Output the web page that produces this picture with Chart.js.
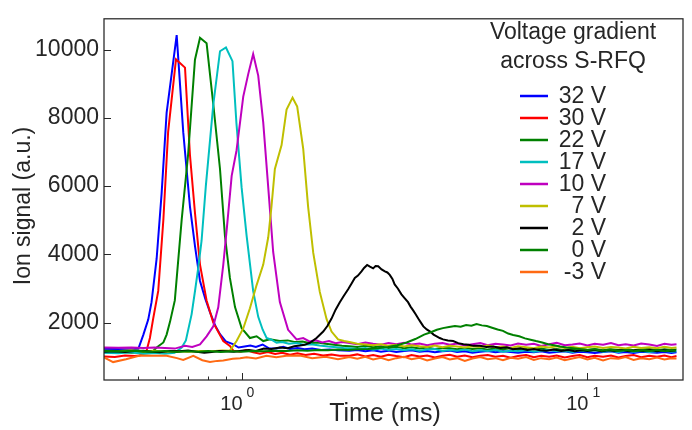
<!DOCTYPE html>
<html>
<head>
<meta charset="utf-8">
<script src="https://cdn.jsdelivr.net/npm/chart.js@4.4.0/dist/chart.umd.min.js"></script>
<style>
  html, body { margin: 0; padding: 0; background: #fff; }
  #wrap { width: 692px; height: 430px; }
</style>
</head>
<body>
<div id="wrap"><canvas id="chart"></canvas></div>
<script>
// legend labels and colours, in plotting order
const labels = ["32 V", "30 V", "22 V", "17 V", "10 V", " 7 V", " 2 V", " 0 V", "-3 V"];
const colors = ["#0000ff", "#ff0000", "#008000", "#00bfbf", "#bf00bf", "#bfbf00", "#000000", "#008000", "#ff6a13"];

// shared time grid (ms) for the flat tails
const tailT = [2.05, 2.16, 2.28, 2.4, 2.53, 2.66, 2.8, 2.95, 3.1, 3.27, 3.44, 3.62, 3.81, 4.0, 4.2, 4.42, 4.65, 4.9, 5.15, 5.42, 5.7, 6.0, 6.3, 6.65, 7.0, 7.35, 7.75, 8.15, 8.6, 9.05, 9.5, 10.0, 10.5, 11.1, 11.7, 12.3, 12.9, 13.6, 14.3, 15.1, 15.9, 16.7, 17.5, 18.1];

// 32 V
const t32 = [0.40, 0.43, 0.46, 0.49, 0.503, 0.52, 0.537, 0.549, 0.568, 0.587, 0.607, 0.628, 0.649, 0.678, 0.709, 0.733, 0.758, 0.785, 0.81, 0.84, 0.866, 0.9, 0.944, 0.98, 1.02, 1.06, 1.1, 1.15, 1.2, 1.26, 1.32, 1.38, 1.45, 1.52, 1.6, 1.7, 1.8, 1.9];
const s32 = [1225, 1230, 1222, 1228, 1240, 1650, 2090, 2600, 3880, 5780, 8150, 9300, 10420, 7580, 5400, 4250, 3220, 2700, 2310, 1900, 1660, 1450, 1370, 1270, 1300, 1330, 1290, 1360, 1250, 1240, 1290, 1230, 1260, 1220, 1240, 1200, 1215, 1190];
const tail32 = [1180, 1200, 1160, 1190, 1150, 1180, 1140, 1170, 1190, 1150, 1170, 1130, 1160, 1180, 1140, 1160, 1120, 1150, 1170, 1130, 1160, 1140, 1120, 1150, 1130, 1160, 1120, 1140, 1160, 1120, 1150, 1130, 1110, 1140, 1160, 1120, 1140, 1110, 1150, 1130, 1120, 1140, 1110, 1130];

// 30 V
const t30 = [0.40, 0.43, 0.46, 0.49, 0.508, 0.531, 0.543, 0.555, 0.574, 0.594, 0.613, 0.646, 0.686, 0.709, 0.733, 0.758, 0.792, 0.828, 0.885, 0.925, 0.946, 0.99, 1.03, 1.08, 1.13, 1.19, 1.25, 1.31, 1.38, 1.45, 1.53, 1.62, 1.72, 1.82, 1.92];
const s30 = [1010, 995, 1035, 1020, 1040, 1175, 1550, 2120, 2930, 5020, 7580, 9710, 9470, 6910, 5220, 3700, 2650, 2000, 1460, 1320, 1180, 1150, 1200, 1130, 1090, 1140, 1080, 1120, 1060, 1100, 1050, 1090, 1040, 1070, 1030];
const tail30 = [1030, 1070, 1010, 1050, 1000, 1060, 1020, 990, 1050, 1010, 1040, 980, 1030, 1060, 1000, 1040, 990, 1030, 1050, 1000, 1030, 970, 1020, 1050, 990, 1030, 1000, 1040, 980, 1020, 1050, 990, 1030, 1000, 1040, 980, 1020, 1050, 990, 1030, 1000, 1040, 990, 1020];

// 22 V
const t22 = [0.40, 0.44, 0.48, 0.52, 0.55, 0.568, 0.594, 0.607, 0.621, 0.641, 0.671, 0.70, 0.733, 0.758, 0.792, 0.828, 0.866, 0.895, 0.925, 0.957, 1.0, 1.057, 1.105, 1.155, 1.207, 1.29, 1.36, 1.43, 1.5, 1.58, 1.66, 1.75, 1.85, 1.95];
const s22 = [1130, 1150, 1120, 1140, 1135, 1270, 1420, 1650, 2030, 2650, 5020, 6900, 9700, 10345, 10185, 8400, 6500, 4540, 3310, 2455, 1840, 1550, 1600, 1460, 1515, 1460, 1480, 1430, 1450, 1400, 1420, 1380, 1350, 1320];
const tail22 = [1310, 1290, 1320, 1280, 1300, 1260, 1290, 1250, 1280, 1240, 1270, 1230, 1260, 1250, 1220, 1260, 1230, 1250, 1210, 1240, 1220, 1250, 1200, 1230, 1210, 1240, 1200, 1230, 1190, 1220, 1240, 1200, 1230, 1190, 1220, 1200, 1230, 1190, 1210, 1230, 1190, 1220, 1200, 1210];

// 17 V
const t17 = [0.40, 0.44, 0.48, 0.52, 0.56, 0.60, 0.64, 0.671, 0.69, 0.717, 0.735, 0.749, 0.766, 0.788, 0.828, 0.866, 0.901, 0.941, 0.966, 1.0, 1.034, 1.08, 1.117, 1.15, 1.181, 1.22, 1.262, 1.31, 1.37, 1.44, 1.51, 1.59, 1.68, 1.78, 1.88, 1.97];
const s17 = [1120, 1100, 1130, 1080, 1110, 1090, 1120, 1270, 1480, 2250, 3000, 3600, 4400, 6000, 8380, 9950, 10060, 9660, 7850, 5960, 4540, 2930, 2170, 1800, 1550, 1500, 1410, 1430, 1380, 1400, 1350, 1370, 1330, 1300, 1280, 1260];
const tail17 = [1250, 1230, 1260, 1210, 1240, 1200, 1230, 1190, 1220, 1180, 1210, 1230, 1170, 1200, 1180, 1210, 1160, 1190, 1170, 1200, 1150, 1180, 1160, 1190, 1150, 1180, 1200, 1160, 1170, 1140, 1180, 1160, 1190, 1150, 1170, 1140, 1180, 1150, 1170, 1140, 1160, 1180, 1150, 1160];

// 10 V
const t10 = [0.40, 0.44, 0.48, 0.52, 0.56, 0.60, 0.641, 0.686, 0.72, 0.758, 0.792, 0.828, 0.856, 0.885, 0.907, 0.936, 0.967, 1.011, 1.045, 1.08, 1.117, 1.155, 1.194, 1.234, 1.29, 1.363, 1.442, 1.507, 1.57, 1.64, 1.71, 1.79, 1.87, 1.95];
const s10 = [1270, 1265, 1275, 1260, 1270, 1255, 1240, 1320, 1290, 1360, 1600, 1890, 2450, 3690, 4800, 6300, 7050, 8620, 9280, 9870, 9235, 7860, 5960, 4070, 2600, 1790, 1510, 1550, 1450, 1480, 1420, 1460, 1400, 1430];
const tail10 = [1400, 1370, 1420, 1380, 1350, 1400, 1370, 1410, 1360, 1390, 1340, 1380, 1400, 1350, 1390, 1330, 1370, 1400, 1340, 1380, 1360, 1330, 1390, 1350, 1380, 1320, 1370, 1410, 1340, 1360, 1390, 1330, 1380, 1350, 1400, 1340, 1370, 1330, 1390, 1360, 1320, 1380, 1350, 1370];

// 7 V
const t7 = [0.40, 0.44, 0.48, 0.52, 0.56, 0.60, 0.65, 0.70, 0.76, 0.82, 0.88, 0.925, 0.967, 1.011, 1.057, 1.105, 1.155, 1.194, 1.22, 1.248, 1.305, 1.349, 1.404, 1.448, 1.507, 1.557, 1.611, 1.683, 1.761, 1.82, 1.901, 1.98];
const s7 = [1180, 1170, 1190, 1160, 1175, 1150, 1165, 1150, 1170, 1160, 1185, 1180, 1460, 1830, 2420, 3100, 3700, 4500, 5400, 6500, 7200, 8240, 8590, 8330, 7100, 5400, 4050, 2900, 2100, 1740, 1510, 1460];
const tail7 = [1430, 1380, 1360, 1340, 1370, 1320, 1350, 1300, 1340, 1310, 1290, 1330, 1280, 1320, 1300, 1270, 1310, 1290, 1330, 1280, 1300, 1260, 1310, 1280, 1250, 1300, 1270, 1310, 1260, 1290, 1250, 1280, 1300, 1260, 1290, 1270, 1240, 1290, 1260, 1280, 1250, 1290, 1260, 1270];

// 2 V
const t2 = [0.40, 0.43, 0.46, 0.49, 0.52, 0.55, 0.58, 0.62, 0.66, 0.70, 0.74, 0.78, 0.82, 0.86, 0.90, 0.95, 1.0, 1.05, 1.1, 1.16, 1.22, 1.29, 1.36, 1.42, 1.474, 1.52, 1.576, 1.647, 1.722, 1.77, 1.82, 1.87, 1.923, 1.98, 2.033, 2.08, 2.125, 2.17, 2.222, 2.26, 2.307, 2.35, 2.401, 2.44, 2.483, 2.54, 2.596, 2.64, 2.682, 2.73, 2.771, 2.83, 2.899, 2.96, 3.029, 3.08, 3.134, 3.19, 3.242, 3.3, 3.354, 3.43, 3.51, 3.59, 3.665, 3.74, 3.823, 3.95, 4.09, 4.23, 4.38, 4.53, 4.68, 4.89, 5.1, 5.35, 5.6, 5.85, 6.09, 6.4, 6.7, 7.0, 7.3, 7.62, 8.0, 8.4, 8.8, 9.2, 9.6, 10.0, 10.5, 11.0, 11.5, 12.0, 12.6, 13.2, 13.8, 14.5, 15.2, 15.9, 16.6, 17.3, 18.0];
const s2 = [1150, 1160, 1140, 1170, 1180, 1150, 1130, 1170, 1160, 1185, 1150, 1120, 1140, 1170, 1160, 1150, 1180, 1200, 1170, 1240, 1230, 1270, 1250, 1310, 1330, 1350, 1410, 1550, 1740, 1900, 2120, 2380, 2600, 2800, 2980, 3150, 3310, 3380, 3500, 3600, 3690, 3640, 3590, 3660, 3650, 3560, 3500, 3470, 3400, 3280, 3120, 3000, 2830, 2720, 2600, 2470, 2360, 2240, 2120, 2000, 1890, 1800, 1740, 1650, 1600, 1550, 1510, 1480, 1460, 1400, 1370, 1350, 1320, 1320, 1290, 1300, 1260, 1280, 1220, 1250, 1200, 1230, 1190, 1180, 1210, 1170, 1200, 1160, 1190, 1170, 1200, 1160, 1190, 1170, 1200, 1160, 1190, 1170, 1200, 1160, 1190, 1170, 1185];

// 0 V
const t0 = [0.40, 0.45, 0.5, 0.55, 0.6, 0.65, 0.7, 0.75, 0.8, 0.87, 0.94, 1.0, 1.08, 1.16, 1.25, 1.35, 1.45, 1.55, 1.66, 1.78, 1.9, 2.03, 2.17, 2.32, 2.48, 2.65, 2.82, 3.0, 3.18, 3.37, 3.51, 3.67, 3.82, 3.98, 4.14, 4.3, 4.46, 4.62, 4.78, 4.95, 5.12, 5.3, 5.5, 5.7, 5.9, 6.1, 6.35, 6.6, 6.85, 7.1, 7.4, 7.7, 8.0, 8.35, 8.7, 9.1, 9.5, 10.0, 10.5, 11.0, 11.6, 12.2, 12.9, 13.6, 14.3, 15.1, 15.9, 16.8, 17.6, 18.0];
const s0 = [1170, 1160, 1180, 1150, 1170, 1140, 1160, 1150, 1170, 1140, 1160, 1150, 1170, 1160, 1180, 1170, 1190, 1180, 1200, 1190, 1210, 1200, 1220, 1230, 1250, 1290, 1340, 1420, 1520, 1650, 1710, 1790, 1840, 1870, 1900, 1880, 1930, 1910, 1960, 1920, 1900, 1850, 1800, 1760, 1680, 1640, 1600, 1540, 1500, 1460, 1420, 1370, 1340, 1300, 1270, 1250, 1230, 1200, 1220, 1180, 1210, 1170, 1200, 1160, 1190, 1170, 1200, 1160, 1190, 1175];

// -3 V
const tm3 = [0.40, 0.425, 0.463, 0.508, 0.555, 0.607, 0.65, 0.678, 0.725, 0.77, 0.81, 0.85, 0.885, 0.943, 0.99, 1.034, 1.1, 1.18, 1.26, 1.347, 1.474, 1.6, 1.75, 1.9];
const sm3 = [985, 845, 930, 1035, 1030, 1030, 960, 910, 1030, 900, 845, 880, 890, 940, 960, 985, 950, 1030, 990, 1030, 1040, 960, 1000, 930];
const tailm3 = [990, 940, 1000, 920, 970, 900, 960, 1000, 930, 970, 890, 950, 990, 920, 960, 880, 950, 990, 930, 960, 900, 970, 940, 990, 910, 960, 930, 980, 900, 950, 990, 920, 970, 890, 960, 940, 990, 910, 960, 930, 980, 920, 960, 950];

const xTicksMajor = [1, 10];
const xTicksMinor = [0.5, 0.6, 0.7, 0.8, 0.9, 2, 3, 4, 5, 6, 7, 8, 9];
const yTicks = [2000, 4000, 6000, 8000, 10000];

const INK = "#262626";
const FONT = '"Liberation Sans", Arial, sans-serif';

function pts(t, v) {
  return t.map((x, i) => ({ x: x, y: v[i] }));
}

const series = [
  pts(t32.concat(tailT), s32.concat(tail32)),
  pts(t30.concat(tailT), s30.concat(tail30)),
  pts(t22.concat(tailT), s22.concat(tail22)),
  pts(t17.concat(tailT), s17.concat(tail17)),
  pts(t10.concat(tailT), s10.concat(tail10)),
  pts(t7.concat(tailT), s7.concat(tail7)),
  pts(t2, s2),
  pts(t0, s0),
  pts(tm3.concat(tailT), sm3.concat(tailm3)),
];

// frame, inward ticks, x labels, axis titles and the legend
const decor = {
  id: "decor",
  afterDraw(chart) {
    const { ctx, chartArea: a } = chart;
    const x = chart.scales.x;
    const y = chart.scales.y;
    ctx.save();
    ctx.strokeStyle = INK;
    ctx.lineWidth = 1;
    ctx.beginPath();
    xTicksMajor.forEach((v) => {
      const px = Math.round(x.getPixelForValue(v)) + 0.5;
      ctx.moveTo(px, a.bottom); ctx.lineTo(px, a.bottom - 7);
    });
    xTicksMinor.forEach((v) => {
      const px = Math.round(x.getPixelForValue(v)) + 0.5;
      ctx.moveTo(px, a.bottom); ctx.lineTo(px, a.bottom - 3.5);
    });
    yTicks.forEach((v) => {
      const py = Math.round(y.getPixelForValue(v)) + 0.5;
      ctx.moveTo(a.left, py); ctx.lineTo(a.left + 7, py);
    });
    ctx.stroke();

    ctx.lineWidth = 1.25;
    ctx.strokeRect(a.left, a.top, a.right - a.left, a.bottom - a.top);

    // x tick labels as 10 with superscript exponent
    ctx.fillStyle = INK;
    ctx.textBaseline = "alphabetic";
    xTicksMajor.forEach((v) => {
      const px = x.getPixelForValue(v);
      ctx.font = "20px " + FONT;
      ctx.textAlign = "right";
      ctx.fillText("10", px + 1, 410);
      ctx.font = "14px " + FONT;
      ctx.textAlign = "left";
      ctx.fillText(String(Math.round(Math.log10(v))), px + 5, 397);
    });

    // axis titles
    ctx.textAlign = "center";
    ctx.textBaseline = "middle";
    ctx.font = "25px " + FONT;
    ctx.fillText("Time (ms)", 385, 414);
    ctx.font = "23px " + FONT;
    ctx.save();
    ctx.translate(24, 206);
    ctx.rotate(-Math.PI / 2);
    ctx.fillText("Ion signal (a.u.)", 0, 0);
    ctx.restore();

    // legend
    ctx.font = "23px " + FONT;
    ctx.textAlign = "center";
    ctx.fillText("Voltage gradient", 573, 33);
    ctx.fillText("across S-RFQ", 573, 62);
    ctx.textAlign = "right";
    ctx.lineWidth = 2.5;
    labels.forEach((lab, i) => {
      const ly = 96 + 22 * i;
      ctx.strokeStyle = colors[i];
      ctx.beginPath();
      ctx.moveTo(520, ly); ctx.lineTo(548, ly);
      ctx.stroke();
      ctx.fillText(lab, 606, ly + 1);
    });
    ctx.restore();
  },
};

new Chart(document.getElementById("chart"), {
  type: "line",
  data: {
    datasets: series.map((d, i) => ({
      label: labels[i].trim(),
      data: d,
      borderColor: colors[i],
      backgroundColor: colors[i],
      borderWidth: 2,
      pointRadius: 0,
      tension: 0,
      fill: false,
      order: series.length - i,
    })),
  },
  options: {
    responsive: true,
    maintainAspectRatio: false,
    animation: false,
    layout: { padding: { left: 0, right: 9, top: 8, bottom: 0 } },
    plugins: {
      legend: { display: false },
      tooltip: { enabled: false },
    },
    scales: {
      x: {
        type: "logarithmic",
        min: 0.4,
        max: 18.9,
        grid: { display: false, drawTicks: false },
        border: { display: false },
        ticks: { display: false },
        afterFit: (scale) => { scale.height = 50; },
      },
      y: {
        type: "linear",
        min: 320,
        max: 10900,
        grid: { display: false, drawTicks: false },
        border: { display: false },
        afterBuildTicks: (scale) => { scale.ticks = yTicks.map((v) => ({ value: v })); },
        ticks: {
          padding: 5,
          color: INK,
          font: { family: FONT, size: 23 },
          callback: (v) => String(v),
        },
        afterFit: (scale) => { scale.width = 104; },
      },
    },
  },
  plugins: [decor],
});
</script>
</body>
</html>
